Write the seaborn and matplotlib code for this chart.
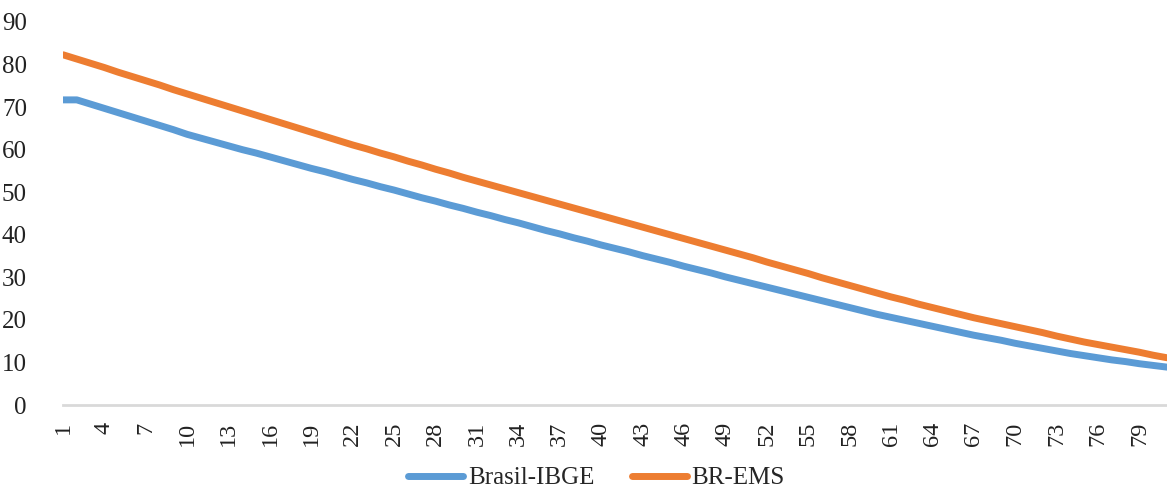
import numpy as np
import pandas as pd
import matplotlib
matplotlib.use("Agg")
import matplotlib.pyplot as plt
import seaborn as sns

# Life expectancy by age, two sources
ages = list(range(1, 82))

brasil_ibge = [
    71.7, 71.7, 70.7, 69.7, 68.7, 67.7, 66.7, 65.7, 64.7, 63.6,
    62.7, 61.8, 60.9, 60.0, 59.2, 58.3, 57.4, 56.5, 55.6, 54.8,
    53.9, 53.0, 52.2, 51.3, 50.5, 49.6, 48.7, 47.9, 47.0, 46.2,
    45.3, 44.5, 43.6, 42.8, 41.9, 41.0, 40.2, 39.3, 38.5, 37.6,
    36.8, 36.0, 35.1, 34.3, 33.5, 32.6, 31.8, 31.0, 30.1, 29.3,
    28.5, 27.7, 26.9, 26.1, 25.3, 24.5, 23.7, 22.9, 22.1, 21.3,
    20.6, 19.9, 19.2, 18.5, 17.8, 17.1, 16.4, 15.8, 15.2, 14.5,
    13.9, 13.3, 12.7, 12.1, 11.6, 11.1, 10.6, 10.2, 9.7, 9.3,
    8.9,
]

br_ems = [
    82.3, 81.3, 80.3, 79.3, 78.2, 77.2, 76.2, 75.2, 74.1, 73.1,
    72.1, 71.1, 70.1, 69.1, 68.1, 67.1, 66.1, 65.1, 64.1, 63.1,
    62.1, 61.1, 60.2, 59.2, 58.3, 57.3, 56.4, 55.4, 54.5, 53.5,
    52.6, 51.7, 50.8, 49.9, 49.0, 48.1, 47.2, 46.3, 45.4, 44.5,
    43.6, 42.7, 41.8, 40.9, 40.0, 39.1, 38.2, 37.3, 36.4, 35.5,
    34.6, 33.6, 32.7, 31.8, 30.9, 29.9, 29.0, 28.1, 27.2, 26.3,
    25.4, 24.6, 23.7, 22.9, 22.1, 21.3, 20.5, 19.8, 19.1, 18.4,
    17.7, 17.0, 16.2, 15.5, 14.8, 14.2, 13.6, 13.0, 12.4, 11.7,
    11.1,
]

series_names = ["Brasil-IBGE", "BR-EMS"]
colors = ["#5B9BD5", "#ED7D31"]

y_ticks = list(range(0, 91, 10))
x_ticks = list(range(1, 80, 3))

df = pd.DataFrame({
    "age": ages * 2,
    "value": brasil_ibge + br_ems,
    "series": [series_names[0]] * len(ages) + [series_names[1]] * len(ages),
})

sns.set_theme(style="white")
plt.rcParams["font.family"] = ["Liberation Serif", "DejaVu Serif"]

fig = plt.figure(figsize=(11.67, 4.97), dpi=100)
ax = fig.add_axes([63 / 1167, 1 - 405 / 497, 1 - 63 / 1167, (405 - 22) / 497])

sns.lineplot(
    data=df, x="age", y="value", hue="series",
    palette=dict(zip(series_names, colors)), hue_order=series_names,
    linewidth=5, ax=ax, legend=False,
)

ax.set_xlim(1, 81)
ax.set_ylim(0, 90)
ax.set_yticks(y_ticks)
ax.set_yticklabels([str(v) for v in y_ticks], fontsize=18, color="#222222")
ax.set_xticks(x_ticks)
ax.set_xticklabels([str(v) for v in x_ticks], rotation=90, fontsize=17.5,
                   color="#222222")
ax.tick_params(axis="y", length=0, pad=26)
ax.tick_params(axis="x", length=0, pad=12)
ax.set_xlabel("")
ax.set_ylabel("")

for side in ["left", "right", "top"]:
    ax.spines[side].set_visible(False)
ax.spines["bottom"].set_color("#D9D9D9")
ax.spines["bottom"].set_linewidth(2)
ax.grid(False)

handles = [plt.Line2D([0], [0], color=c, linewidth=5, solid_capstyle="round")
           for c in colors]
fig.legend(handles, series_names, loc="lower center",
           bbox_to_anchor=(0.511, -0.03), ncol=2, frameon=False,
           fontsize=18, handlelength=2.2, handletextpad=0.2,
           columnspacing=1.5)

fig.savefig("out.png", dpi=100)
